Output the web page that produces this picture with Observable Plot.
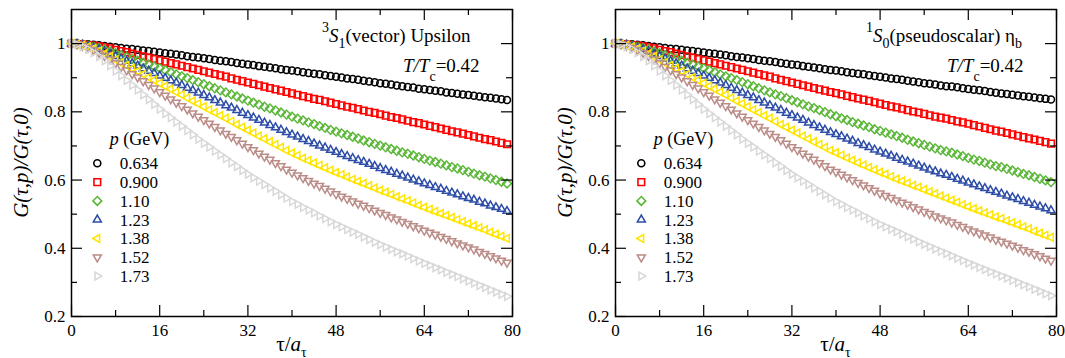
<!DOCTYPE html>
<html>
<head>
<meta charset="utf-8">
<script src="https://cdn.jsdelivr.net/npm/d3@7"></script>
<script src="https://cdn.jsdelivr.net/npm/@observablehq/plot@0.6"></script>
<style>
  html, body { margin: 0; padding: 0; background: #fff; }
  #chart { position: relative; width: 1065px; height: 358px; }
  #chart svg { position: absolute; top: 0; overflow: visible; }
</style>
</head>
<body>
<div id="chart"></div>
<script>
// Euclidean time slices tau/a_tau
const tau = d3.range(80);

// momentum labels (GeV)
const momenta = ["0.634", "0.900", "1.10", "1.23", "1.38", "1.52", "1.73"];

// axis ticks
const xTicks = [0, 16, 32, 48, 64, 80];
const xMinor = [8, 24, 40, 56, 72];
const yTicks = [0.2, 0.4, 0.6, 0.8, 1];
const yMinor = [0.3, 0.5, 0.7, 0.9];

// 3S1 (vector) Upsilon: G(tau,p)/G(tau,0)
const vec0634 = [1.000,1.000,0.999,0.998,0.997,0.995,0.993,0.991,0.989,0.987,
  0.985,0.984,0.982,0.980,0.978,0.976,0.974,0.972,0.970,0.968,
  0.966,0.963,0.961,0.959,0.957,0.955,0.952,0.950,0.948,0.946,
  0.943,0.941,0.939,0.937,0.934,0.932,0.930,0.928,0.925,0.923,
  0.921,0.919,0.916,0.914,0.912,0.910,0.907,0.905,0.903,0.901,
  0.898,0.896,0.894,0.891,0.889,0.887,0.884,0.882,0.880,0.877,
  0.875,0.873,0.871,0.868,0.866,0.864,0.862,0.860,0.857,0.855,
  0.853,0.851,0.849,0.847,0.845,0.843,0.841,0.839,0.837,0.835];
const vec0900 = [1.000,0.999,0.998,0.996,0.994,0.992,0.989,0.986,0.982,0.978,
  0.975,0.971,0.967,0.963,0.959,0.955,0.951,0.947,0.943,0.939,
  0.935,0.931,0.927,0.923,0.919,0.915,0.911,0.907,0.903,0.898,
  0.894,0.890,0.886,0.882,0.878,0.874,0.870,0.866,0.862,0.858,
  0.854,0.850,0.846,0.842,0.838,0.835,0.831,0.827,0.823,0.819,
  0.815,0.812,0.808,0.804,0.800,0.797,0.793,0.789,0.785,0.782,
  0.778,0.774,0.770,0.767,0.763,0.759,0.755,0.751,0.747,0.743,
  0.740,0.736,0.732,0.728,0.724,0.720,0.717,0.713,0.709,0.705];
const vec110 = [1.000,0.999,0.997,0.994,0.991,0.987,0.982,0.977,0.972,0.966,
  0.961,0.955,0.950,0.944,0.939,0.933,0.928,0.922,0.916,0.910,
  0.904,0.899,0.893,0.887,0.881,0.875,0.869,0.863,0.857,0.851,
  0.845,0.839,0.833,0.827,0.821,0.815,0.810,0.804,0.798,0.792,
  0.786,0.780,0.775,0.769,0.764,0.758,0.753,0.747,0.742,0.737,
  0.732,0.727,0.722,0.716,0.711,0.706,0.701,0.696,0.691,0.686,
  0.681,0.677,0.672,0.667,0.662,0.657,0.653,0.648,0.643,0.638,
  0.634,0.629,0.624,0.619,0.614,0.610,0.605,0.600,0.595,0.590];
const vec123 = [1.000,0.999,0.996,0.992,0.988,0.983,0.977,0.970,0.963,0.956,
  0.949,0.942,0.935,0.927,0.920,0.913,0.906,0.899,0.892,0.885,
  0.878,0.870,0.863,0.856,0.849,0.842,0.834,0.827,0.819,0.812,
  0.805,0.797,0.790,0.783,0.776,0.768,0.761,0.754,0.747,0.740,
  0.733,0.727,0.720,0.714,0.707,0.701,0.695,0.688,0.682,0.676,
  0.670,0.664,0.658,0.653,0.647,0.641,0.635,0.629,0.624,0.618,
  0.613,0.607,0.601,0.596,0.590,0.585,0.579,0.574,0.568,0.563,
  0.558,0.552,0.547,0.542,0.536,0.531,0.525,0.520,0.515,0.509];
const vec138 = [1.000,0.998,0.995,0.990,0.985,0.978,0.970,0.962,0.953,0.944,
  0.936,0.927,0.919,0.910,0.901,0.893,0.884,0.875,0.867,0.858,
  0.850,0.841,0.832,0.824,0.815,0.806,0.798,0.789,0.781,0.772,
  0.763,0.755,0.746,0.738,0.729,0.721,0.712,0.704,0.696,0.687,
  0.679,0.672,0.664,0.657,0.650,0.643,0.636,0.629,0.622,0.616,
  0.609,0.602,0.596,0.590,0.583,0.577,0.570,0.564,0.558,0.551,
  0.545,0.539,0.533,0.526,0.520,0.514,0.508,0.502,0.496,0.490,
  0.484,0.478,0.472,0.466,0.460,0.454,0.447,0.441,0.435,0.429];
const vec152 = [1.000,0.998,0.994,0.988,0.981,0.973,0.964,0.954,0.943,0.932,
  0.922,0.911,0.901,0.890,0.879,0.869,0.858,0.848,0.837,0.827,
  0.817,0.807,0.796,0.786,0.776,0.766,0.756,0.746,0.736,0.727,
  0.717,0.707,0.697,0.688,0.678,0.669,0.660,0.650,0.641,0.631,
  0.622,0.614,0.606,0.598,0.590,0.583,0.575,0.567,0.559,0.552,
  0.545,0.538,0.531,0.525,0.518,0.511,0.504,0.498,0.491,0.485,
  0.478,0.472,0.465,0.459,0.452,0.446,0.440,0.434,0.428,0.421,
  0.415,0.409,0.403,0.397,0.390,0.384,0.377,0.371,0.364,0.358];
const vec173 = [1.000,0.997,0.991,0.983,0.974,0.962,0.950,0.935,0.920,0.906,
  0.892,0.878,0.864,0.850,0.836,0.822,0.808,0.795,0.783,0.770,
  0.758,0.745,0.733,0.720,0.708,0.697,0.685,0.674,0.663,0.651,
  0.640,0.628,0.617,0.607,0.597,0.587,0.577,0.567,0.557,0.547,
  0.537,0.529,0.520,0.512,0.504,0.495,0.487,0.478,0.470,0.463,
  0.455,0.448,0.441,0.433,0.426,0.418,0.411,0.404,0.397,0.390,
  0.384,0.377,0.370,0.363,0.356,0.350,0.343,0.337,0.330,0.324,
  0.317,0.311,0.304,0.298,0.291,0.285,0.278,0.272,0.265,0.259];

// 1S0 (pseudoscalar) eta_b: G(tau,p)/G(tau,0)
const ps0634 = [1.000,1.000,0.999,0.998,0.997,0.995,0.993,0.991,0.989,0.987,
  0.985,0.984,0.982,0.980,0.978,0.976,0.974,0.972,0.970,0.968,
  0.966,0.963,0.961,0.959,0.957,0.955,0.952,0.950,0.948,0.946,
  0.943,0.941,0.939,0.937,0.934,0.932,0.930,0.928,0.925,0.923,
  0.921,0.919,0.916,0.914,0.912,0.910,0.907,0.905,0.903,0.901,
  0.898,0.896,0.894,0.891,0.889,0.887,0.884,0.882,0.880,0.877,
  0.875,0.874,0.872,0.869,0.867,0.865,0.863,0.861,0.858,0.856,
  0.854,0.852,0.850,0.848,0.846,0.844,0.842,0.840,0.838,0.836];
const ps0900 = [1.000,0.999,0.998,0.996,0.994,0.992,0.989,0.986,0.982,0.978,
  0.975,0.971,0.967,0.963,0.959,0.955,0.951,0.947,0.943,0.939,
  0.935,0.931,0.927,0.923,0.919,0.915,0.911,0.907,0.903,0.898,
  0.894,0.890,0.886,0.882,0.878,0.874,0.870,0.866,0.862,0.858,
  0.855,0.851,0.847,0.843,0.839,0.836,0.832,0.828,0.824,0.820,
  0.816,0.813,0.809,0.805,0.801,0.798,0.794,0.790,0.786,0.783,
  0.780,0.776,0.772,0.769,0.765,0.761,0.757,0.753,0.749,0.745,
  0.742,0.738,0.734,0.730,0.726,0.722,0.719,0.715,0.711,0.707];
const ps110 = [1.000,0.999,0.997,0.994,0.991,0.987,0.982,0.977,0.972,0.966,
  0.961,0.955,0.950,0.944,0.939,0.933,0.928,0.922,0.916,0.910,
  0.904,0.899,0.893,0.887,0.881,0.875,0.869,0.863,0.857,0.851,
  0.846,0.840,0.834,0.828,0.822,0.816,0.811,0.805,0.799,0.793,
  0.787,0.781,0.776,0.770,0.765,0.760,0.755,0.749,0.744,0.739,
  0.734,0.729,0.724,0.718,0.713,0.708,0.703,0.698,0.693,0.688,
  0.684,0.680,0.675,0.670,0.665,0.660,0.656,0.651,0.646,0.641,
  0.638,0.633,0.628,0.623,0.618,0.614,0.609,0.604,0.599,0.594];
const ps123 = [1.000,0.999,0.996,0.992,0.988,0.983,0.977,0.970,0.963,0.956,
  0.949,0.942,0.935,0.927,0.920,0.913,0.906,0.899,0.892,0.885,
  0.878,0.870,0.863,0.856,0.849,0.842,0.834,0.827,0.819,0.812,
  0.805,0.797,0.790,0.783,0.776,0.768,0.761,0.754,0.747,0.740,
  0.734,0.728,0.721,0.715,0.708,0.702,0.696,0.689,0.683,0.677,
  0.671,0.665,0.659,0.654,0.648,0.642,0.636,0.630,0.625,0.619,
  0.615,0.609,0.603,0.598,0.592,0.587,0.581,0.576,0.570,0.565,
  0.560,0.554,0.549,0.544,0.538,0.533,0.527,0.522,0.517,0.511];
const ps138 = [1.000,0.998,0.995,0.990,0.985,0.978,0.970,0.962,0.953,0.944,
  0.936,0.927,0.919,0.910,0.901,0.893,0.884,0.875,0.867,0.858,
  0.850,0.841,0.832,0.824,0.815,0.806,0.798,0.789,0.781,0.772,
  0.763,0.755,0.746,0.738,0.729,0.721,0.712,0.704,0.696,0.687,
  0.680,0.673,0.665,0.658,0.651,0.644,0.637,0.630,0.623,0.617,
  0.610,0.603,0.597,0.591,0.584,0.579,0.572,0.566,0.560,0.553,
  0.547,0.541,0.535,0.528,0.522,0.516,0.510,0.504,0.498,0.492,
  0.487,0.481,0.475,0.469,0.463,0.457,0.450,0.444,0.438,0.432];
const ps152 = [1.000,0.998,0.994,0.988,0.981,0.973,0.964,0.954,0.943,0.932,
  0.922,0.911,0.901,0.890,0.879,0.869,0.858,0.848,0.837,0.827,
  0.817,0.807,0.796,0.786,0.776,0.766,0.756,0.746,0.736,0.727,
  0.717,0.707,0.697,0.688,0.678,0.669,0.660,0.650,0.641,0.631,
  0.624,0.616,0.608,0.600,0.592,0.585,0.577,0.569,0.561,0.554,
  0.548,0.541,0.534,0.528,0.521,0.514,0.507,0.501,0.494,0.488,
  0.482,0.476,0.469,0.463,0.456,0.450,0.444,0.438,0.432,0.425,
  0.420,0.414,0.408,0.402,0.395,0.390,0.383,0.377,0.370,0.364];
const ps173 = [1.000,0.997,0.991,0.983,0.974,0.962,0.950,0.935,0.920,0.906,
  0.892,0.878,0.864,0.850,0.836,0.822,0.808,0.795,0.783,0.770,
  0.758,0.745,0.733,0.720,0.708,0.697,0.685,0.674,0.663,0.651,
  0.640,0.628,0.617,0.607,0.597,0.587,0.577,0.567,0.557,0.547,
  0.537,0.529,0.520,0.512,0.504,0.495,0.487,0.478,0.470,0.463,
  0.456,0.449,0.442,0.434,0.427,0.419,0.412,0.405,0.398,0.391,
  0.385,0.378,0.371,0.364,0.357,0.351,0.344,0.338,0.331,0.325,
  0.319,0.313,0.306,0.300,0.293,0.287,0.280,0.274,0.267,0.261];

const colors = ["#000000", "#ff0000", "#5cb73a", "#2c4ca6", "#ffe600", "#bb8c87", "#d8d8d8"];

// open marker shapes, scaled from the dot radius
function polygon(pts) {
  return {
    draw(ctx, size) {
      const r = Math.sqrt(size / Math.PI);
      pts.forEach(([x, y], i) => i ? ctx.lineTo(x * r, y * r) : ctx.moveTo(x * r, y * r));
      ctx.closePath();
    }
  };
}
const k = 1.3, c = 0.866;
const symCircle = {draw(ctx, size) { const r = Math.sqrt(size / Math.PI); ctx.moveTo(r, 0); ctx.arc(0, 0, r, 0, 2 * Math.PI); }};
const symSquare = polygon([[-0.95, -0.95], [0.95, -0.95], [0.95, 0.95], [-0.95, 0.95]]);
const symDiamond = polygon([[0, -1.25], [1.25, 0], [0, 1.25], [-1.25, 0]]);
const symUp = polygon([[0, -k], [k * c, k * 0.5], [-k * c, k * 0.5]]);
const symLeft = polygon([[-k, 0], [k * 0.5, -k * c], [k * 0.5, k * c]]);
const symDown = polygon([[0, k], [k * c, -k * 0.5], [-k * c, -k * 0.5]]);
const symRight = polygon([[k, 0], [-k * 0.5, -k * c], [-k * 0.5, k * c]]);
const symbols = [symCircle, symSquare, symDiamond, symUp, symLeft, symDown, symRight];

const H = 358, MT = 9, MB = 42, FW = 441, FH = H - MT - MB;
const serif = "Liberation Serif, DejaVu Serif, Times New Roman, serif";

function panel({series, left, width, marginLeft, marginRight, title}) {
  const dots = series.map((vals, i) => Plot.dot(tau, {
    x: t => t, y: t => vals[t], symbol: symbols[i], r: 3.5,
    stroke: colors[i], strokeWidth: 1.5, fill: "none"
  }));
  const svg = Plot.plot({
    width, height: H, marginTop: MT, marginBottom: MB, marginLeft, marginRight,
    style: {fontFamily: serif, fontSize: "17px", color: "#000", background: "transparent"},
    x: {domain: [0, 80], ticks: xTicks, tickSize: 0, tickPadding: 7, tickFormat: d3.format("~g"), label: null},
    y: {domain: [0.2, 1.1], ticks: yTicks, tickSize: 0, tickPadding: 6, tickFormat: d3.format("~g"), label: null},
    marks: [
      ...dots,
      Plot.tickX(xTicks, {x: d => d, insetTop: FH - 11, strokeWidth: 1.2}),
      Plot.tickX(xTicks, {x: d => d, insetBottom: FH - 11, strokeWidth: 1.2}),
      Plot.tickX(xMinor, {x: d => d, insetTop: FH - 6, strokeWidth: 1.2}),
      Plot.tickX(xMinor, {x: d => d, insetBottom: FH - 6, strokeWidth: 1.2}),
      Plot.tickY(yTicks, {y: d => d, insetRight: FW - 11, strokeWidth: 1.2}),
      Plot.tickY(yTicks, {y: d => d, insetLeft: FW - 11, strokeWidth: 1.2}),
      Plot.tickY(yMinor, {y: d => d, insetRight: FW - 6, strokeWidth: 1.2}),
      Plot.tickY(yMinor, {y: d => d, insetLeft: FW - 6, strokeWidth: 1.2}),
      Plot.frame({stroke: "#000", strokeWidth: 1.5})
    ]
  });
  svg.style.left = left + "px";
  const L = marginLeft;
  const g = d3.select(svg).append("g")
    .attr("font-family", serif).attr("fill", "#000").attr("text-anchor", "start");

  // axis titles
  g.append("text").attr("transform", `translate(${L - 43},${MT + FH / 2}) rotate(-90)`)
    .attr("text-anchor", "middle").attr("font-size", 21).attr("font-style", "italic")
    .text("G(τ,p)/G(τ,0)");
  const xl = g.append("text").attr("x", L + FW / 2).attr("y", 351)
    .attr("text-anchor", "middle").attr("font-size", 21);
  xl.append("tspan").text("τ/");
  xl.append("tspan").attr("font-style", "italic").text("a");
  xl.append("tspan").attr("font-size", 14).attr("dy", 6).text("τ");

  // state label
  const t1 = g.append("text").attr("x", L + 251).attr("y", 42).attr("font-size", 19);
  t1.append("tspan").attr("font-size", 14).attr("dy", -10).text(title[0]);
  t1.append("tspan").attr("font-style", "italic").attr("dy", 10).text("S");
  t1.append("tspan").attr("font-size", 14).attr("dy", 6).text(title[1]);
  t1.append("tspan").attr("dy", -6).text(title[2]);
  if (title[3]) t1.append("tspan").attr("font-size", 14).attr("dy", 6).text(title[3]);

  const t2 = g.append("text").attr("x", L + 332).attr("y", 72).attr("font-size", 19);
  t2.append("tspan").attr("font-style", "italic").text("T/T");
  t2.append("tspan").attr("font-size", 14).attr("dy", 9).text("c");
  t2.append("tspan").attr("dy", -9).text("=0.42");

  // momentum legend
  const lh = g.append("text").attr("x", L + 38.7).attr("y", 145).attr("font-size", 18);
  lh.append("tspan").attr("font-style", "italic").text("p");
  lh.append("tspan").text(" (GeV)");
  momenta.forEach((m, i) => {
    const cy = 163.3 + 18.8 * i;
    g.append("path").attr("transform", `translate(${L + 26.3},${cy})`)
      .attr("d", d3.symbol(symbols[i], Math.PI * 3.5 * 3.5)())
      .attr("fill", "none").attr("stroke", colors[i]).attr("stroke-width", 1.6);
    g.append("text").attr("x", L + 48.7).attr("y", cy + 5.8).attr("font-size", 17).text(m);
  });
  return svg;
}

const chart = document.getElementById("chart");
chart.append(panel({
  series: [vec0634, vec0900, vec110, vec123, vec138, vec152, vec173],
  left: 0, width: 533, marginLeft: 71, marginRight: 21,
  title: ["3", "1", "(vector) Upsilon", null]
}));
chart.append(panel({
  series: [ps0634, ps0900, ps110, ps123, ps138, ps152, ps173],
  left: 533, width: 532, marginLeft: 82, marginRight: 9,
  title: ["1", "0", "(pseudoscalar) η", "b"]
}));
</script>
</body>
</html>
